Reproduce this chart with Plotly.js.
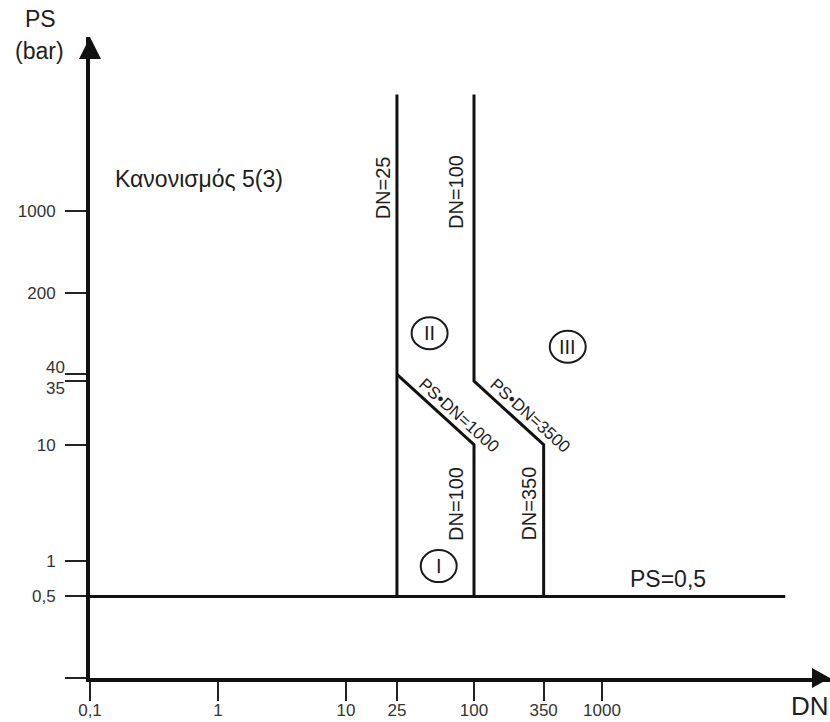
<!DOCTYPE html>
<html><head><meta charset="utf-8">
<script src="https://cdn.plot.ly/plotly-3.0.1.min.js"></script>
<style>html,body{margin:0;padding:0;background:#fff}</style>
</head><body><div id="chart" style="width:830px;height:722px"></div>
<script>
// ---- data ----
const xTickVals = [0.1, 1, 10, 25, 100, 350, 1000];
const xTickText = ['0,1', '1', '10', '25', '100', '350', '1000'];
const yTickVals = [0.1, 0.5, 1, 10, 35, 40, 200, 1000];
const yTickText = ['', '0,5', '1', '10', '', '', '200', '1000'];

// boundary lines (DN, PS)
const dn25X = [25, 25];                 const dn25Y = [0.5, 10000];
const border12X = [25, 100, 100];       const border12Y = [40, 10, 0.5];
const border23X = [100, 100, 350, 350]; const border23Y = [10000, 35, 10, 0.5];
const ps05X = [0.1, 27000];             const ps05Y = [0.5, 0.5];

// category labels (DN, PS)
const catNames = ['I', 'II', 'III'];
const catDN = [53, 45, 540];
const catPS = [0.91, 90, 69];

// ---- layout helpers ----
const L = 90, T = 37, W = 830, H = 722, B = 44, R = 0;
const PW = W - L - R, PH = H - T - B;
const X0 = -1, X1 = -1 + PW / 128, Y0 = -1, Y1 = -1 + PH / 116.7;
const px = p => (p - L) / PW;
const py = p => (H - B - p) / PH;
const fx = dn => (Math.log10(dn) - X0) / (X1 - X0);
const fy = ps => (Math.log10(ps) - Y0) / (Y1 - Y0);
const FONT = 'Liberation Sans, Arial, sans-serif';
const TXT = '#1e1e1e';
const lineStyle = {color: '#111', width: 3};

const traces = [
  [dn25X, dn25Y], [border12X, border12Y], [border23X, border23Y], [ps05X, ps05Y]
].map(([x, y]) => ({x, y, type: 'scatter', mode: 'lines', line: lineStyle,
  hoverinfo: 'skip', showlegend: false}));

const ann = [];
function paperText(text, x, y, size, opts = {}) {
  ann.push(Object.assign({text, xref: 'paper', yref: 'paper', x: px(x), y: py(y),
    xanchor: 'center', yanchor: 'middle',
    showarrow: false, font: {family: FONT, size, color: TXT}}, opts));
}
function dataText(text, dn, ps, size, opts = {}) {
  ann.push(Object.assign({text, xref: 'x', yref: 'y', x: Math.log10(dn), y: Math.log10(ps),
    xanchor: 'center', yanchor: 'middle',
    showarrow: false, font: {family: FONT, size, color: TXT}}, opts));
}
paperText('PS', 40, 19, 23);
paperText('(bar)', 39, 51, 23);
paperText('DN', 810, 706, 26);
paperText('Κανονισμός 5(3)', 113, 179, 23, {xanchor: 'left'});
const tickFont = {family: FONT, size: 17, color: '#333'};
paperText('40', 67, 367, 17, {xanchor: 'right', font: tickFont});
paperText('35', 67, 388, 17, {xanchor: 'right', font: tickFont});

dataText('DN=25', 25, 1600, 20, {textangle: -90, xshift: -14});
dataText('DN=100', 100, 1460, 20, {textangle: -90, xshift: -18});
dataText('DN=100', 100, 3.1, 20, {textangle: -90, xshift: -18});
dataText('DN=350', 350, 3.1, 20, {textangle: -90, xshift: -15});
dataText('PS•DN=1000', 76, 17.6, 17, {textangle: 42});
dataText('PS•DN=3500', 274, 17.9, 17, {textangle: 42});
dataText('PS=0,5', 3280, 0.5, 23, {yshift: 17});

const shapes = [];
catNames.forEach((n, i) => {
  dataText(n, catDN[i], catPS[i], 20);
  const cx = fx(catDN[i]), cy = fy(catPS[i]);
  shapes.push({type: 'circle', xref: 'paper', yref: 'paper',
    x0: cx - 18 / PW, x1: cx + 18 / PW, y0: cy - 16 / PH, y1: cy + 16 / PH,
    line: {color: '#1a1a1a', width: 2}});
});
// axis arrow heads
shapes.push({type: 'path', xref: 'paper', yref: 'paper', xsizemode: 'pixel', ysizemode: 'pixel',
  xanchor: 0, yanchor: 1, path: 'M0,0 L-11,-22 L11,-22 Z', fillcolor: '#111', line: {width: 0}});
shapes.push({type: 'path', xref: 'paper', yref: 'paper', xsizemode: 'pixel', ysizemode: 'pixel',
  xanchor: 1, yanchor: 0, path: 'M0,0 L-18,10 L-18,-10 Z', fillcolor: '#111', line: {width: 0}});

const axisCommon = {type: 'log', showgrid: false, zeroline: false, showline: true,
  linewidth: 4, linecolor: '#111', ticks: 'outside', tickwidth: 2, tickcolor: '#222',
  tickfont: tickFont, fixedrange: true};

const layout = {
  width: W, height: H, margin: {l: L, r: R, t: T, b: B, pad: 0},
  paper_bgcolor: '#fff', plot_bgcolor: '#fff', showlegend: false,
  xaxis: Object.assign({}, axisCommon, {range: [X0, X1], tickvals: xTickVals,
    ticktext: xTickText, ticklen: 19, ticklabelstandoff: -5}),
  yaxis: Object.assign({}, axisCommon, {range: [Y0, Y1], tickvals: yTickVals,
    ticktext: yTickText, ticklen: 21, ticklabelstandoff: 6}),
  annotations: ann, shapes: shapes
};
Plotly.newPlot('chart', traces, layout, {displayModeBar: false, staticPlot: true});
</script></body></html>
